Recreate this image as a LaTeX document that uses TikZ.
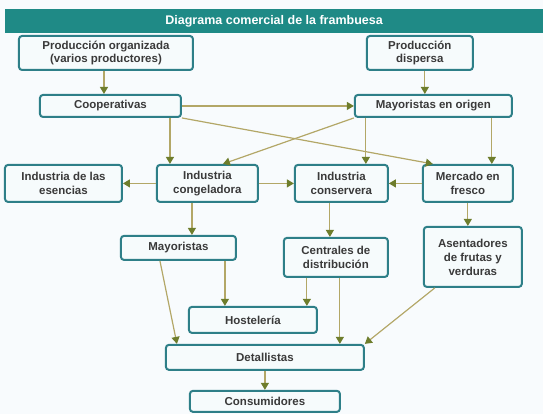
\documentclass[tikz,border=0pt]{standalone}
\usepackage{fontspec}
\setmainfont{Liberation Sans}
\usetikzlibrary{arrows.meta}
\definecolor{titlec}{HTML}{1F8A86}
\definecolor{boxc}{HTML}{2E7F88}
\definecolor{boxf}{HTML}{F6FBFC}
\definecolor{txtc}{HTML}{3A3A3A}
\definecolor{linec}{HTML}{B3A767}
\definecolor{tipc}{HTML}{6E7D2C}
\definecolor{bgc}{HTML}{F8FBFD}

\begin{document}
\begin{tikzpicture}[x=1pt,y=-1pt,>={Triangle[length=7pt,width=8pt,color=tipc]},
  box/.style={draw=boxc,line width=2pt,rounded corners=3pt,fill=boxf,text=txtc,
    align=center,inner sep=1pt,font=\bfseries\fontsize{11.5}{14}\selectfont},
  flow/.style={->,draw=linec,line width=1.2pt}]
\fill[bgc] (0,0) rectangle (543,414);
\node[fill=titlec,text=white,anchor=north west,minimum width=538pt,minimum height=24pt,
  font=\bfseries\fontsize{12.5}{14}\selectfont] (title) at (5,9) {Diagrama comercial de la frambuesa};

\node[box,minimum width=174pt,minimum height=34pt] (porg) at (106,53) {Producción organizada\\(varios productores)};
\node[box,minimum width=106pt,minimum height=34pt] (pdisp) at (420,53) {Producción\\dispersa};
\node[box,minimum width=141pt,minimum height=22pt] (coop) at (110.5,106) {Cooperativas};
\node[box,minimum width=157pt,minimum height=22pt] (mayo) at (433.5,106) {Mayoristas en origen};
\node[box,minimum width=117pt,minimum height=37pt] (esen) at (63.5,183.5) {Industria de las\\esencias};
\node[box,minimum width=101pt,minimum height=37pt] (cong) at (207.5,183.5) {Industria\\congeladora};
\node[box,minimum width=93pt,minimum height=37pt] (cons) at (341.5,183.5) {Industria\\conservera};
\node[box,minimum width=90pt,minimum height=37pt] (merc) at (468,183.5) {Mercado en\\fresco};
\node[box,minimum width=115pt,minimum height=24pt] (mayr) at (178.5,248) {Mayoristas};
\node[box,minimum width=104pt,minimum height=39pt] (cent) at (336,257.5) {Centrales de\\distribución};
\node[box,minimum width=98pt,minimum height=60pt] (asen) at (473,257) {Asentadores\\de frutas y\\verduras};
\node[box,minimum width=128pt,minimum height=26pt] (host) at (253,320) {Hostelería};
\node[box,minimum width=198pt,minimum height=25pt] (detal) at (265,357.5) {Detallistas};
\node[box,minimum width=150pt,minimum height=21pt] (consu) at (265,401.5) {Consumidores};

\draw[flow] (porg.south -| 104,0) -- (coop.north -| 104,0);
\draw[flow] (pdisp.south -| 425,0) -- (mayo.north -| 425,0);
\draw[flow] (coop) -- (mayo);
\draw[flow] (coop.south east) -- (merc.north -| 433,0);
\draw[flow] (mayo.south west) -- (cong.north -| 223,0);
\draw[flow] (coop.south -| 170,0) -- (cong.north -| 170,0);
\draw[flow] (mayo.south -| 366,0) -- (cons.north -| 366,0);
\draw[flow] (mayo.south -| 492,0) -- (merc.north -| 492,0);
\draw[flow] (cong) -- (esen);
\draw[flow] (cong) -- (cons);
\draw[flow] (merc) -- (cons);
\draw[flow] (cong.south -| 192,0) -- (mayr.north -| 192,0);
\draw[flow] (cons.south -| 330,0) -- (cent.north -| 330,0);
\draw[flow] (merc.south -| 468,0) -- (asen.north -| 468,0);
\draw[flow] (mayr.south -| 160,0) -- (detal.north -| 177,0);
\draw[flow] (mayr.south -| 225,0) -- (host.north -| 225,0);
\draw[flow] (cent.south -| 307,0) -- (host.north -| 307,0);
\draw[flow] (cent.south -| 340,0) -- (detal.north -| 340,0);
\draw[flow] (asen.south -| 435,0) -- (detal.north east);
\draw[flow] (detal) -- (consu);
\end{tikzpicture}
\end{document}
